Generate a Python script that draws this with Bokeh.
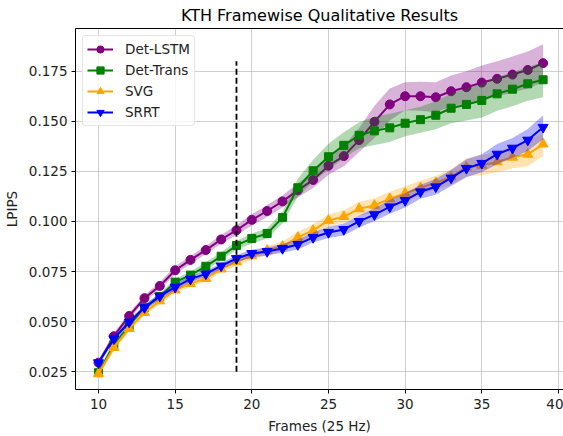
from bokeh.plotting import figure
from bokeh.models import FixedTicker, Legend, LegendItem, LinearAxis
from bokeh.embed import file_html
from bokeh.resources import INLINE

frames = list(range(10, 40))

det_lstm = [0.0295, 0.0427, 0.0528, 0.0617, 0.0678, 0.0756, 0.0808, 0.0857, 0.0910, 0.0956,
            0.1008, 0.1052, 0.1100, 0.1155, 0.1207, 0.1278, 0.1326, 0.1406, 0.1497, 0.1584,
            0.1625, 0.1625, 0.1620, 0.1650, 0.1670, 0.1693, 0.1712, 0.1733, 0.1756, 0.1790]
lstm_std = [0.0015, 0.0015, 0.0015, 0.0015, 0.0018, 0.0020, 0.0020, 0.0020, 0.0022, 0.0025,
            0.0028, 0.0030, 0.0030, 0.0035, 0.0040, 0.0045, 0.0050, 0.0060, 0.0080, 0.0080,
            0.0070, 0.0072, 0.0075, 0.0078, 0.0080, 0.0085, 0.0088, 0.0090, 0.0092, 0.0095]

det_trans = [0.0245, 0.0385, 0.0480, 0.0570, 0.0625, 0.0697, 0.0732, 0.0776, 0.0826, 0.0880,
             0.0915, 0.0940, 0.1019, 0.1168, 0.1253, 0.1323, 0.1380, 0.1430, 0.1452, 0.1467,
             0.1490, 0.1508, 0.1530, 0.1565, 0.1584, 0.1604, 0.1637, 0.1660, 0.1687, 0.1707]
trans_std = [0.0012, 0.0015, 0.0015, 0.0015, 0.0015, 0.0015, 0.0018, 0.0020, 0.0020, 0.0022,
             0.0025, 0.0025, 0.0030, 0.0045, 0.0055, 0.0065, 0.0065, 0.0065, 0.0070, 0.0070,
             0.0065, 0.0065, 0.0070, 0.0075, 0.0080, 0.0085, 0.0085, 0.0085, 0.0085, 0.0087]

svg = [0.0240, 0.0370, 0.0465, 0.0545, 0.0603, 0.0657, 0.0690, 0.0715, 0.0762, 0.0798,
       0.0828, 0.0855, 0.0875, 0.0920, 0.0955, 0.1005, 0.1024, 0.1063, 0.1080, 0.1113,
       0.1140, 0.1168, 0.1193, 0.1222, 0.1270, 0.1280, 0.1297, 0.1320, 0.1335, 0.1386]
svg_std = [0.0015, 0.0015, 0.0015, 0.0015, 0.0015, 0.0015, 0.0015, 0.0015, 0.0018, 0.0020,
           0.0020, 0.0022, 0.0025, 0.0028, 0.0030, 0.0030, 0.0032, 0.0035, 0.0035, 0.0035,
           0.0035, 0.0035, 0.0035, 0.0040, 0.0045, 0.0050, 0.0050, 0.0055, 0.0060, 0.0060]

srrt = [0.0295, 0.0414, 0.0498, 0.0570, 0.0627, 0.0672, 0.0712, 0.0738, 0.0778, 0.0815,
        0.0840, 0.0850, 0.0865, 0.0885, 0.0920, 0.0945, 0.0960, 0.1000, 0.1034, 0.1073,
        0.1105, 0.1148, 0.1173, 0.1217, 0.1265, 0.1290, 0.1336, 0.1366, 0.1406, 0.1470]
srrt_std = [0.0012, 0.0012, 0.0012, 0.0013, 0.0015, 0.0015, 0.0015, 0.0015, 0.0015, 0.0018,
            0.0020, 0.0020, 0.0022, 0.0025, 0.0025, 0.0028, 0.0030, 0.0030, 0.0032, 0.0035,
            0.0035, 0.0035, 0.0040, 0.0040, 0.0045, 0.0045, 0.0050, 0.0050, 0.0055, 0.0060]

x_ticks = [10, 15, 20, 25, 30, 35, 40]
y_ticks = [0.025, 0.050, 0.075, 0.100, 0.125, 0.150, 0.175]
y_tick_labels = ["0.025", "0.050", "0.075", "0.100", "0.125", "0.150", "0.175"]
cut_frame = 19
cut_y = [0.025, 0.18]

series = [
    ("Det-LSTM", det_lstm, lstm_std, "#800080", "circle", 9),
    ("Det-Trans", det_trans, trans_std, "#008000", "square", 8),
    ("SVG", svg, svg_std, "#FFA500", "triangle", 10),
    ("SRRT", srrt, srrt_std, "#0000FF", "inverted_triangle", 10),
]

FONT = "DejaVu Sans"

p = figure(width=563, height=436, output_backend="svg", toolbar_location=None,
           x_range=(8.5, 40.33), y_range=(0.0161, 0.1963),
           title="KTH Framewise Qualitative Results",
           min_border_left=10, min_border_right=0, min_border_top=0, min_border_bottom=4)

p.title.text_font = FONT
p.title.text_font_size = "16px"
p.title.text_font_style = "normal"
p.title.align = "center"
p.title.text_color = "black"
p.title.standoff = 7

p.outline_line_color = None
p.background_fill_color = "white"
p.border_fill_color = "white"

xax = p.below[0]
yax = p.left[0]
for ax in (xax, yax):
    ax.axis_line_color = "black"
    ax.major_tick_line_color = "black"
    ax.major_tick_out = 4
    ax.major_tick_in = 0
    ax.minor_tick_line_color = None
    ax.major_label_text_font = FONT
    ax.major_label_text_font_size = "13.5px"
    ax.major_label_text_color = "#222222"
    ax.axis_label_text_font = FONT
    ax.axis_label_text_font_size = "13.5px"
    ax.axis_label_text_font_style = "normal"
    ax.axis_label_text_color = "#222222"

xax.ticker = FixedTicker(ticks=x_ticks)
yax.ticker = FixedTicker(ticks=y_ticks)
yax.major_label_overrides = {t: l for t, l in zip(y_ticks, y_tick_labels)}
xax.axis_label = "Frames (25 Hz)"
yax.axis_label = "LPIPS"
xax.axis_label_standoff = 6
yax.axis_label_standoff = 6
xax.major_label_standoff = 5
yax.major_label_standoff = 4

top_spine = LinearAxis(ticker=FixedTicker(ticks=[]), major_label_text_font_size="0px",
                       major_tick_line_color=None, minor_tick_line_color=None,
                       axis_line_color="black", major_label_standoff=0)
p.add_layout(top_spine, "above")

p.xgrid.grid_line_color = "#b0b0b0"
p.ygrid.grid_line_color = "#b0b0b0"
p.xgrid.grid_line_alpha = 0.6
p.ygrid.grid_line_alpha = 0.6
p.xgrid.ticker = FixedTicker(ticks=x_ticks)
p.ygrid.ticker = FixedTicker(ticks=y_ticks)

items = []
for name, vals, std, color, marker, size in series:
    lo = [v - s for v, s in zip(vals, std)]
    hi = [v + s for v, s in zip(vals, std)]
    p.varea(x=frames, y1=lo, y2=hi, fill_color=color, fill_alpha=0.3)
    ln = p.line(frames, vals, line_color=color, line_width=2)
    sc = p.scatter(frames, vals, marker=marker, size=size, fill_color=color, line_color=color)
    items.append(LegendItem(label=name, renderers=[ln, sc]))

p.line([cut_frame, cut_frame], cut_y, line_color="black", line_width=1.8, line_dash="6 3")

legend = Legend(items=items, location="top_left")
legend.label_text_font = FONT
legend.label_text_font_size = "13.5px"
legend.label_text_color = "#222222"
legend.glyph_width = 26
legend.glyph_height = 18
legend.label_height = 18
legend.spacing = 3
legend.padding = 4
legend.margin = 7
legend.label_standoff = 12
legend.border_line_color = "#cccccc"
legend.border_line_width = 1
legend.background_fill_alpha = 0.8
if "border_radius" in legend.properties():
    legend.border_radius = 4
p.add_layout(legend)

open("out.html", "w").write(file_html(p, INLINE))
